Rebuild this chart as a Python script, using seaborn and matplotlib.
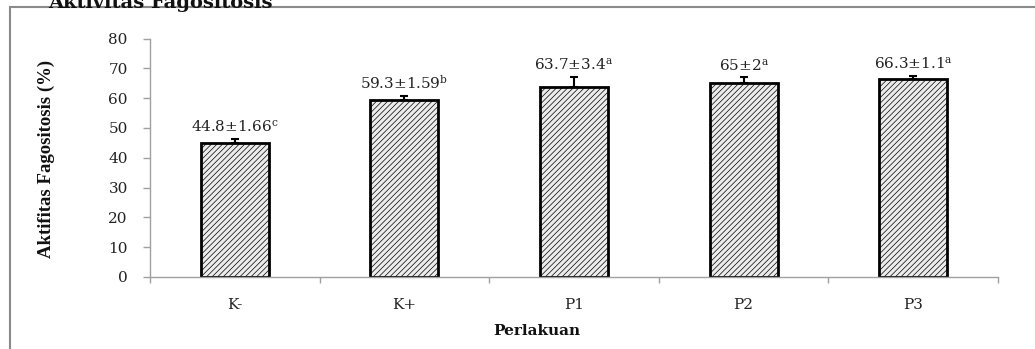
import matplotlib
matplotlib.use("Agg")
import matplotlib.pyplot as plt
import matplotlib.patches as mpatches
import seaborn as sns
import pandas as pd

categories = ["K-", "K+", "P1", "P2", "P3"]
values = [44.8, 59.3, 63.7, 65, 66.3]
sds = [1.66, 1.59, 3.4, 2, 1.1]
letters = ["c", "b", "a", "a", "a"]
yticks = [0, 10, 20, 30, 40, 50, 60, 70, 80]

sns.set_style("white")
plt.rcParams["font.family"] = ["DejaVu Serif"]
plt.rcParams["mathtext.fontset"] = "dejavuserif"
plt.rcParams["hatch.linewidth"] = 0.5
plt.rcParams["hatch.color"] = "#b4b4b4"

W, H = 1035, 349
fig = plt.figure(figsize=(W / 100, H / 100), dpi=100)
ax = fig.add_axes([150 / W, 1 - 277 / H, (998 - 150) / W, (277 - 38.6) / H])

df = pd.DataFrame({"cat": categories, "val": values})
sns.barplot(data=df, x="cat", y="val", width=0.4, color="#ececec",
            edgecolor="black", linewidth=2, errorbar=None, ax=ax)
for i, p in enumerate(ax.patches):
    p.set_hatch("//////")

xpos = list(range(len(categories)))
ax.errorbar(xpos, values, yerr=[[0] * len(sds), sds], fmt="none",
            ecolor="black", elinewidth=1.5, capsize=3, capthick=1.5, zorder=5)

for x, v, s, l in zip(xpos, values, sds, letters):
    ax.text(x, v + s + 2.4, f"{v:g}±{s:g}" + r"$^{\mathrm{" + l + "}}$",
            ha="center", va="baseline", fontsize=11, color="#222222")

ax.set_ylim(0, 80)
ax.set_xlim(-0.5, len(categories) - 0.5)
ax.set_yticks(yticks)
ax.set_xticks([i - 0.5 for i in range(len(categories) + 1)], minor=False)
ax.set_xticklabels([])
ax.set_xticks(xpos, minor=True)
ax.set_xticklabels(categories, minor=True)
ax.tick_params(axis="x", which="major", direction="out", length=4, width=1,
               color="#a0a0a0", bottom=True)
ax.tick_params(axis="x", which="minor", length=0, pad=15, labelsize=11,
               labelcolor="#222222")
ax.tick_params(axis="y", direction="out", length=5, width=1, color="#a0a0a0",
               pad=11, labelsize=11, labelcolor="#222222", left=True)
ax.set_xlabel("")
ax.set_ylabel("")
for side in ["top", "right"]:
    ax.spines[side].set_visible(False)
for side in ["left", "bottom"]:
    ax.spines[side].set_color("#a0a0a0")
    ax.spines[side].set_linewidth(1)

fig.text(537 / W, 1 - 331 / H, "Perlakuan", ha="center", va="center",
         fontsize=11, fontweight="bold", color="#111111")
fig.text(46 / W, 1 - 159 / H, "Aktifitas Fagositosis (%)", rotation=90,
         ha="center", va="center", fontsize=13.5, fontweight="bold",
         family=["Liberation Serif"], color="#111111")
fig.text(273 / W, 1 - 8 / H, "Aktivitas Fagositosis", ha="right",
         va="baseline", fontsize=14, fontweight="bold", color="#111111")

frame = mpatches.Rectangle((10 / W, -0.2), 1.2, 1.2 - 7 / H,
                           transform=fig.transFigure, fill=False,
                           edgecolor="#8a8a8a", linewidth=1.5)
fig.patches.append(frame)

fig.savefig("out.png", dpi=100)
